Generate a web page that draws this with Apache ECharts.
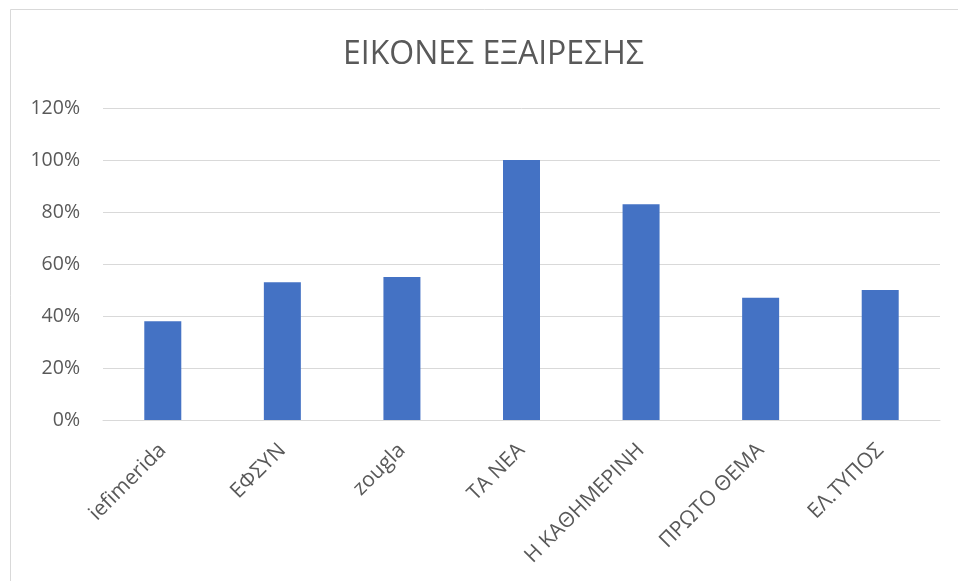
<!DOCTYPE html>
<html>
<head>
<meta charset="utf-8">
<script src="https://cdn.jsdelivr.net/npm/echarts@6/dist/echarts.min.js"></script>
<style>
  html, body { margin: 0; padding: 0; background: #fff; }
  #container { width: 958px; height: 581px; }
</style>
</head>
<body>
<div id="container"></div>
<script>
// data
var categories = ['iefimerida', 'ΕΦΣΥΝ', 'zougla', 'ΤΑ ΝΕΑ', 'Η ΚΑΘΗΜΕΡΙΝΗ', 'ΠΡΩΤΟ ΘΕΜΑ', 'ΕΛ.ΤΥΠΟΣ'];
var values = [38, 53, 55, 100, 83, 47, 50]; // percent

// style
var textColor = '#595959';
var lineColor = '#d9d9d9';
var barColor = '#4472c4';
var fontName = '"Open Sans", "Noto Sans", sans-serif';

var dom = document.getElementById('container');
var myChart = echarts.init(dom);

var option = {
    backgroundColor: '#fff',
    animation: false,
    title: {
        text: 'ΕΙΚΟΝΕΣ ΕΞΑΙΡΕΣΗΣ',
        left: 338,
        top: 34,
        textStyle: {
            color: textColor,
            fontFamily: fontName,
            fontWeight: 'normal',
            fontSize: 32
        }
    },
    grid: {
        left: 103,
        right: 18,
        top: 108,
        bottom: 161,
        containLabel: false
    },
    xAxis: {
        type: 'category',
        data: categories,
        axisLine: { lineStyle: { color: lineColor, width: 1 } },
        axisTick: { show: false },
        axisLabel: {
            rotate: 45,
            color: textColor,
            fontFamily: fontName,
            fontSize: 21,
            margin: 27,
            interval: 0
        }
    },
    yAxis: {
        type: 'value',
        min: 0,
        max: 120,
        interval: 20,
        axisLine: { show: false },
        axisTick: { show: false },
        splitLine: { lineStyle: { color: lineColor, width: 1 } },
        axisLabel: {
            color: textColor,
            fontFamily: fontName,
            fontSize: 19.5,
            margin: 23,
            formatter: '{value}%'
        }
    },
    series: [{
        type: 'bar',
        data: values,
        barWidth: 37,
        itemStyle: { color: barColor }
    }],
    graphic: [{
        type: 'rect',
        silent: true,
        shape: { x: 10.5, y: 9.5, width: 1000, height: 700 },
        style: { fill: null, stroke: lineColor, lineWidth: 1 }
    }]
};

myChart.setOption(option, true);
</script>
</body>
</html>
